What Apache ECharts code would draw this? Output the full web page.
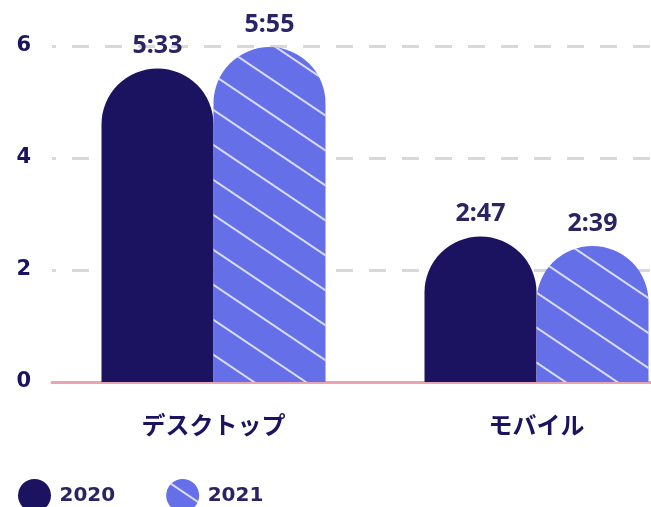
<!DOCTYPE html>
<html>
<head>
<meta charset="utf-8">
<script src="https://cdn.jsdelivr.net/npm/echarts@6/dist/echarts.min.js"></script>
<style>
  html, body { margin: 0; padding: 0; background: #fff; }
  #chart { width: 651px; height: 507px; }
</style>
</head>
<body>
<div id="chart"></div>
<script>
var categories = ['デスクトップ', 'モバイル'];
var values2020 = [5.6, 2.6];
var values2021 = [5.98, 2.43];
var labels2020 = ['5:33', '2:47'];
var labels2021 = ['5:55', '2:39'];
var yTicks = [0, 2, 4, 6];

var navy = '#1c1360';
var blue = '#6570e8';
var jpFont = '"Noto Sans CJK JP", "Noto Sans", sans-serif';
var numFont = '"DejaVu Sans", sans-serif';

function barLabel(list) {
    return {
        show: true,
        position: 'top',
        distance: 10,
        color: '#2b2463',
        fontSize: 25,
        fontWeight: 'bold',
        fontFamily: '"Noto Sans", sans-serif',
        formatter: function (p) { return list[p.dataIndex]; }
    };
}

var myChart = echarts.init(document.getElementById('chart'));
myChart.setOption({
    animation: false,
    grid: { left: 52, width: 646, top: 46, bottom: 125, containLabel: false, outerBoundsMode: 'none' },
    legend: {
        left: 13,
        top: 474,
        icon: 'circle',
        itemWidth: 34,
        itemHeight: 33,
        itemGap: 51,
        textStyle: {
            color: '#2b2463', fontSize: 20, fontWeight: 'bold', fontFamily: numFont,
            padding: [0, 0, 0, 3]
        },
        data: ['2020', '2021']
    },
    xAxis: {
        type: 'category',
        data: categories,
        axisLine: { lineStyle: { color: '#eaa3b3', width: 3 } },
        axisTick: { show: false },
        axisLabel: {
            margin: 31,
            color: navy,
            fontSize: 24,
            fontWeight: 'bold',
            fontFamily: jpFont
        }
    },
    yAxis: {
        type: 'value',
        min: 0,
        max: yTicks[yTicks.length - 1],
        interval: 2,
        axisLine: { show: false },
        axisTick: { show: false },
        axisLabel: {
            margin: 21,
            color: navy,
            fontSize: 21,
            fontWeight: 'bold',
            fontFamily: numFont
        },
        splitLine: { lineStyle: { color: '#d8d8d8', width: 3, type: [17, 16], dashOffset: 13 } }
    },
    series: [
        {
            name: '2020',
            type: 'bar',
            data: values2020,
            barWidth: 112,
            barGap: '0%',
            itemStyle: { color: navy, borderRadius: [56, 56, 0, 0] },
            label: barLabel(labels2020)
        },
        {
            name: '2021',
            type: 'bar',
            data: values2021,
            barWidth: 112,
            itemStyle: {
                color: blue,
                borderRadius: [56, 56, 0, 0],
                decal: {
                    symbol: 'rect',
                    color: 'rgba(255,255,255,0.75)',
                    dashArrayX: [1, 0],
                    dashArrayY: [2, 27],
                    rotation: Math.PI / 5.3
                }
            },
            label: barLabel(labels2021)
        }
    ]
});
</script>
</body>
</html>
